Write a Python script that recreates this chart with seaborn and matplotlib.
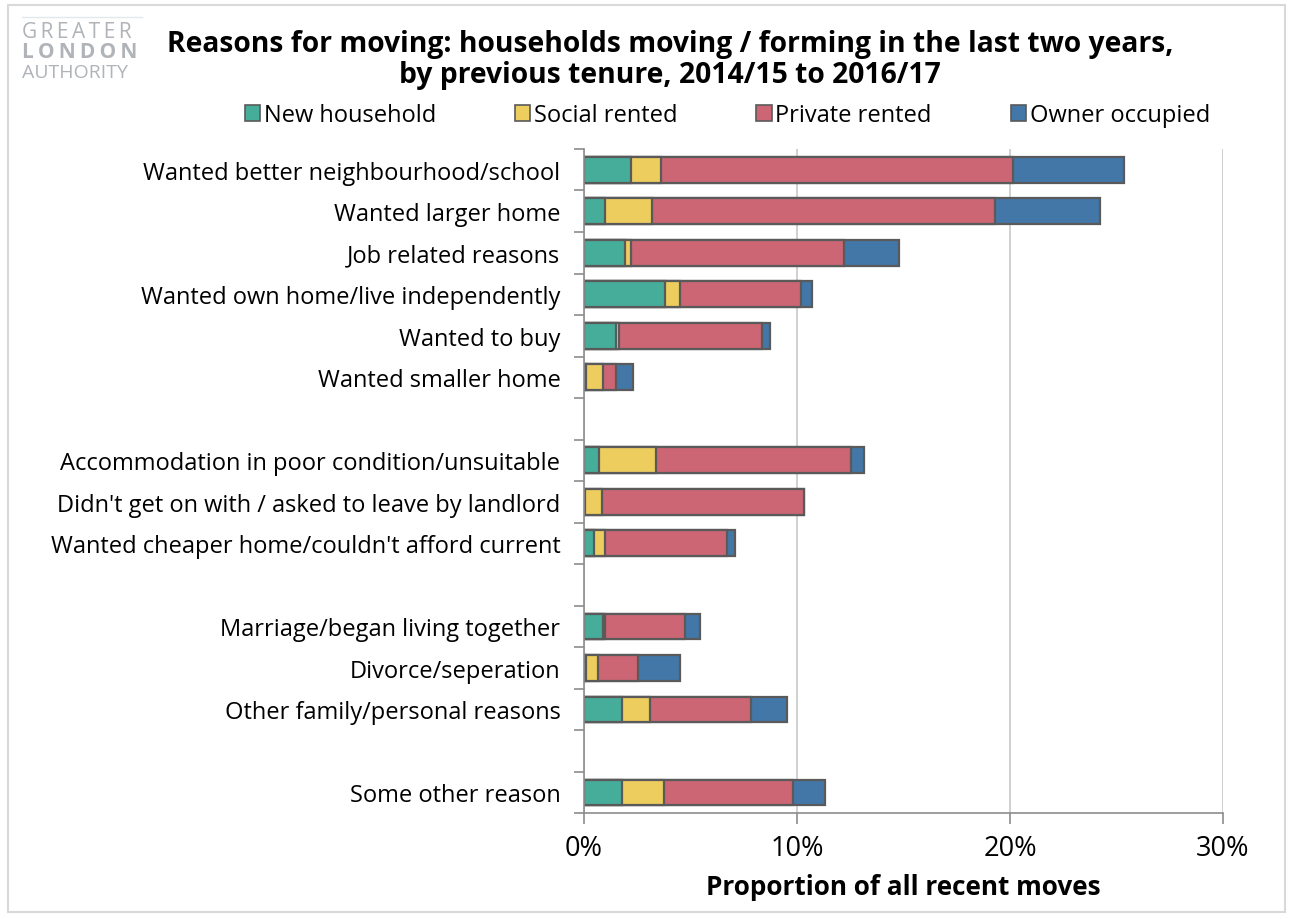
import numpy as np
import pandas as pd
import matplotlib.pyplot as plt
import seaborn as sns
from matplotlib.patches import Patch, Rectangle
from matplotlib.lines import Line2D

# values (% of all recent moves)
reasons = ["Wanted better neighbourhood/school", "Wanted larger home", "Job related reasons",
           "Wanted own home/live independently", "Wanted to buy", "Wanted smaller home",
           "Accommodation in poor condition/unsuitable",
           "Didn't get on with / asked to leave by landlord",
           "Wanted cheaper home/couldn't afford current",
           "Marriage/began living together", "Divorce/seperation",
           "Other family/personal reasons", "Some other reason"]
new_household = [2.2, 1.0, 1.9, 3.8, 1.5, 0.1, 0.7, 0.03, 0.45, 0.9, 0.1, 1.8, 1.8]
social_rented = [1.4, 2.2, 0.3, 0.7, 0.15, 0.8, 2.7, 0.8, 0.55, 0.08, 0.55, 1.3, 1.95]
private_rented = [16.55, 16.1, 10.0, 5.7, 6.7, 0.6, 9.15, 9.5, 5.7, 3.75, 1.87, 4.75, 6.05]
owner_occupied = [5.2, 4.9, 2.6, 0.5, 0.4, 0.8, 0.6, 0.0, 0.4, 0.7, 2.0, 1.7, 1.5]

series = ["New household", "Social rented", "Private rented", "Owner occupied"]
colors = ["#45ad9a", "#eccd5e", "#cc6574", "#4277a8"]

# blank slots separate the groups of reasons
slots = reasons[:6] + [" "] + reasons[6:9] + ["  "] + reasons[9:12] + ["   "] + reasons[12:]

df = pd.DataFrame({"reason": reasons, "New household": new_household,
                   "Social rented": social_rented, "Private rented": private_rented,
                   "Owner occupied": owner_occupied})
cum = df[series].cumsum(axis=1)
cum["reason"] = df["reason"]

plt.rcParams['font.family'] = ['Open Sans', 'DejaVu Sans']
fig = plt.figure(figsize=(12.93, 9.2), dpi=100)
ax = fig.add_axes([0.4517, 0.115, 0.4942, 0.722])

edge = "#5a5a5a"
# draw cumulative totals from the outermost segment inwards
for s, c in zip(series[::-1], colors[::-1]):
    sns.barplot(data=cum, x=s, y="reason", order=slots, color=c, saturation=1,
                edgecolor=edge, linewidth=1.6, width=0.62, orient="h", ax=ax)

ax.set_xlim(0, 30)
ax.set_ylim(len(slots) - 0.5, -0.5)
ax.set_xticks([0, 10, 20, 30])
ax.set_xticklabels(["0%", "10%", "20%", "30%"], fontsize=19.5)
ax.set_yticks(range(len(slots)))
ax.set_yticklabels([s.strip() for s in slots], fontsize=17)
ax.set_yticks(np.arange(-0.5, len(slots), 1), minor=True)
ax.tick_params(axis="y", which="major", length=0, pad=17)
ax.tick_params(axis="y", which="minor", length=7, color="#8c8c8c", width=1.2)
ax.tick_params(axis="x", length=8, color="#8c8c8c", width=1.2, pad=7)
ax.set_ylabel("")
ax.set_xlabel("Proportion of all recent moves", fontsize=18.8, fontweight="bold", labelpad=8)
ax.grid(axis="x", color="#c8c8c8", linewidth=1.2)
ax.set_axisbelow(True)
for sp in ["top", "right"]:
    ax.spines[sp].set_visible(False)
for sp in ["left", "bottom"]:
    ax.spines[sp].set_color("#8c8c8c")
    ax.spines[sp].set_linewidth(1.2)

fig.text(0.518, 0.9345, "Reasons for moving: households moving / forming in the last two years,\n"
         "by previous tenure, 2014/15 to 2016/17", ha="center", va="center",
         fontsize=20.3, fontweight="bold", linespacing=1.08)

handles = [Patch(facecolor=c, edgecolor=edge, linewidth=1.2) for c in colors]
fig.legend(handles, series, loc="center left", bbox_to_anchor=(0.182, 0.874), ncol=4,
           frameon=False, fontsize=17, handlelength=0.65, handleheight=0.65,
           handletextpad=0.15, columnspacing=3.35, borderaxespad=0)

# logo and outer frame
fig.add_artist(Line2D([0.017, 0.110], [0.980, 0.980], color="#e3e8ec", linewidth=1))
fig.text(0.017, 0.965, "\u2009".join("GREATER"), fontsize=15, color="#b0b4b8", va="center")
fig.text(0.017, 0.943, "\u2009".join("LONDON"), fontsize=15, color="#b0b4b8", va="center",
         fontweight="bold")
fig.text(0.017, 0.921, "AUTHORITY", fontsize=14, color="#b0b4b8", va="center")
fig.add_artist(Rectangle((0.006, 0.008), 0.988, 0.985, transform=fig.transFigure,
                         fill=False, edgecolor="#d9d9d9", linewidth=1.5))

fig.savefig("out.png", dpi=100)
